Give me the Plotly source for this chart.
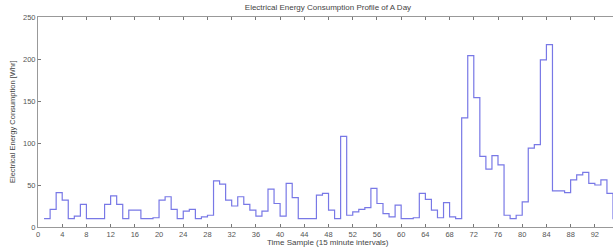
import plotly.graph_objects as go

time_samples = list(range(1, 97))
energy_whr = [
    10, 21, 41, 32, 10, 13, 27, 10, 10, 10,
    27, 37, 27, 10, 20, 20, 10, 10, 11, 32,
    36, 21, 10, 19, 21, 10, 12, 14, 55, 51,
    32, 25, 36, 27, 20, 13, 19, 45, 28, 13,
    52, 35, 10, 10, 10, 38, 40, 20, 10, 108,
    14, 18, 21, 23, 46, 28, 16, 12, 26, 10,
    10, 11, 40, 33, 20, 11, 29, 12, 10, 130,
    204, 154, 84, 69, 85, 74, 14, 10, 14, 30,
    94, 98, 199, 217, 43, 43, 41, 56, 62, 65,
    52, 50, 56, 40, 10, 10,
]
x_ticks = list(range(0, 97, 4))
y_ticks = [0, 50, 100, 150, 200, 250]

title_text = "Electrical Energy Consumption Profile of A Day"
x_title = "Time Sample (15 minute intervals)"
y_title = "Electrical Energy Consumption [Whr]"

FONT = "Liberation Sans, Arial, sans-serif"
W, H = 613, 250
ML, MR, MT, MB = 38, 0, 17, 23

fig = go.Figure()
fig.add_trace(go.Scatter(
    x=time_samples, y=energy_whr, mode="lines",
    line=dict(shape="hv", color="rgb(120,120,230)", width=1.2),
    showlegend=False, hoverinfo="skip",
))

fig.update_layout(
    width=W, height=H,
    margin=dict(l=ML, r=MR, t=MT, b=MB, pad=0),
    paper_bgcolor="white", plot_bgcolor="white",
    font=dict(family=FONT, size=8, color="#555"),
    title=dict(text=title_text, x=0.535, xanchor="center",
               y=1 - 7 / H, yanchor="middle", yref="container",
               font=dict(family=FONT, size=8, color="#444")),
    xaxis=dict(
        range=[0, 95], tickmode="array", tickvals=x_ticks,
        ticktext=[str(v) for v in x_ticks],
        showgrid=False, zeroline=False,
        showline=True, linecolor="#999", linewidth=1, mirror="allticks",
        ticks="inside", ticklen=3, tickcolor="#777",
        tickfont=dict(size=7.5, color="#555"),
    ),
    yaxis=dict(
        range=[0, 250], tickmode="array", tickvals=y_ticks,
        ticktext=[str(v) for v in y_ticks],
        showgrid=False, zeroline=False,
        showline=True, linecolor="#999", linewidth=1,
        ticks="inside", ticklen=3, tickcolor="#777",
        tickfont=dict(size=7.5, color="#555"),
    ),
    annotations=[
        dict(text=x_title, xref="paper", yref="paper",
             x=(328 - ML) / (W - ML - MR), y=-(242 - (H - MB)) / (H - MT - MB),
             xanchor="center", yanchor="middle", showarrow=False,
             font=dict(family=FONT, size=8, color="#444")),
        dict(text=y_title, xref="paper", yref="paper", textangle=-90,
             x=(12 - ML) / (W - ML - MR), y=0.5,
             xanchor="center", yanchor="middle", showarrow=False,
             font=dict(family=FONT, size=7.5, color="#444")),
    ],
)

fig.write_html("out.html", config={"displayModeBar": False, "staticPlot": True},
               post_script="document.body.style.margin='0';document.body.style.overflow='hidden';")
